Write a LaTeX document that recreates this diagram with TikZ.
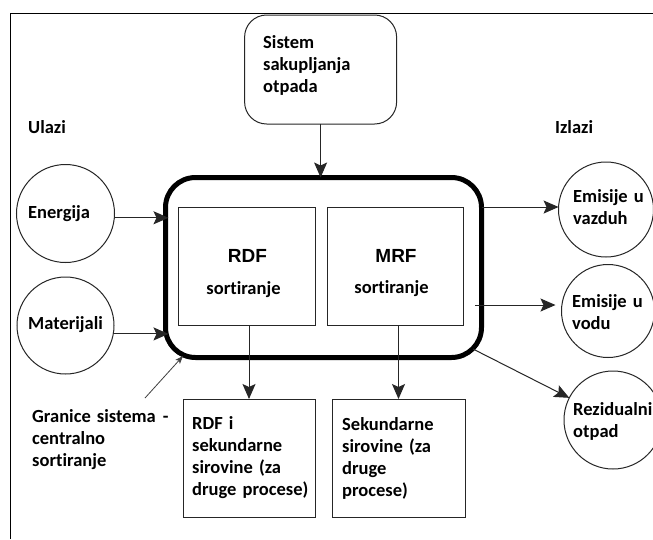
\documentclass[tikz,border=0pt]{standalone}
\usepackage{fontspec}
\setmainfont{Carlito}[Ligatures=NoCommon]
\newfontfamily\headfont{Liberation Sans}
\usetikzlibrary{arrows.meta}
\begin{document}
\begin{tikzpicture}[x=1pt,y=-1pt,
  lbl/.style={font=\fontsize{18.5}{22}\selectfont\bfseries, inner sep=0pt, anchor=base},
  para/.style={font=\fontsize{18.5}{22}\selectfont\bfseries, inner sep=0pt,
    text width=150pt, align=left, anchor=base west},
  head/.style={font=\headfont\fontsize{19}{22}\selectfont\bfseries, inner sep=0pt, anchor=base},
  thinline/.style={line width=1pt, draw=black!85},
  sq/.style={rectangle, thinline, inner sep=0pt, outer sep=0pt},
  rbox/.style={rectangle, thinline, rounded corners=22pt, inner sep=0pt, outer sep=0pt},
  sysbox/.style={rectangle, draw=black, line width=5pt, rounded corners=30pt,
    inner sep=0pt, outer sep=0pt},
  circ/.style={circle, thinline, inner sep=0pt, outer sep=0pt},
  arr/.style={-{Stealth[length=15pt,width=13pt,inset=3pt]}, line width=1pt, draw=black!85},
  smallarr/.style={-{Stealth[length=8pt,width=6pt,inset=2pt]}, line width=0.8pt, draw=black!75},
]
\clip (0,0) rectangle (653,539);
\fill[white] (0,0) rectangle (653,539);

% page frame
\draw[line width=1pt] (10.5,539) -- (10.5,13) -- (653,13);

% collection system
\node[rbox, minimum width=152pt, minimum height=109pt] (sistem) at (320.6,69.5) {};
\node[para] (sistemt) at (263,48) {Sistem\\sakupljanja\\otpada};

% column headings
\node[lbl, anchor=base west] (ulazi) at (28,133) {Ulazi};
\node[lbl, anchor=base west] (izlazi) at (555,133) {Izlazi};

% system boundary
\node[sysbox, minimum width=316pt, minimum height=180pt] (sys) at (323.5,267.5) {};

% sorting units
\node[sq, minimum width=137pt, minimum height=118pt] (rdf) at (246.5,266) {};
\node[sq, minimum width=136pt, minimum height=118pt] (mrf) at (395,266) {};
\node[head] (rdft) at (247.5,262) {RDF};
\node[lbl] (rdfs) at (243.5,294) {sortiranje};
\node[head] (mrft) at (396,262) {MRF};
\node[lbl] (mrfs) at (391.5,293) {sortiranje};

% inputs
\node[circ, minimum size=98pt] (energija) at (65.5,213.5) {};
\node[circ, minimum size=97pt] (materijali) at (65.5,325.5) {};
\node[lbl, anchor=base west] (energijat) at (28,218) {Energija};
\node[lbl, anchor=base west] (materijalit) at (28,329) {Materijali};

% outputs
\node[circ, minimum size=95pt] (vazduh) at (606,209.5) {};
\node[circ, minimum size=93pt] (vodu) at (608,311) {};
\node[circ, minimum size=98pt] (rezid) at (613,420) {};
\node[para] (vazduht) at (573,202) {Emisije u\\vazduh};
\node[para] (vodut) at (572,307) {Emisije u\\vodu};
\node[para] (rezidt) at (573,415) {Rezidualni\\otpad};

% products
\node[sq, minimum width=132pt, minimum height=118pt] (out1) at (249,458) {};
\node[sq, minimum width=133pt, minimum height=118pt] (out2) at (398.5,458) {};
\node[para] (out1t) at (192,429) {RDF i\\sekundarne\\sirovine (za\\druge procese)};
\node[para] (out2t) at (342,430) {Sekundarne\\sirovine (za\\druge\\procese)};

% boundary label
\node[para] (granice) at (32,422) {Granice sistema\hspace{7pt}-\\centralno\\sortiranje};

% connectors
\coordinate (vodusrc) at (475,305);
\coordinate (syscorner) at (473,349);
\coordinate (gstart) at (145,398);
\coordinate (gend) at (183,356);

\draw[arr] (sistem.south) -- (sistem.south |- sys.north);
\draw[arr, shorten >=-3pt] (energija.-5) -- (energija.-5 -| sys.west);
\draw[arr, shorten >=-3pt] (materijali.-10) -- (materijali.-10 -| sys.west);
\draw[arr] (sys.east |- vazduh.177) -- (vazduh.177);
\draw[arr, shorten >=6pt] (vodusrc) -- (vodusrc -| vodu.west);
\draw[arr] (syscorner) -- (rezid);
\draw[arr] (rdf.south -| out1.north) -- (out1.north);
\draw[arr] (mrf.south -| out2.north) -- (out2.north);
\draw[smallarr] (gstart) -- (gend);
\end{tikzpicture}
\end{document}
